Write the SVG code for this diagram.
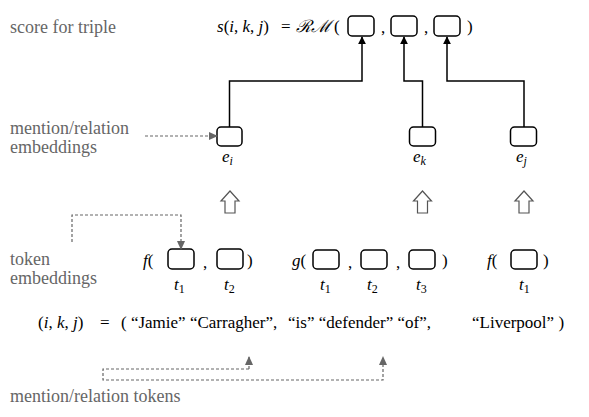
<svg xmlns="http://www.w3.org/2000/svg" width="589" height="417" viewBox="0 0 589 417">
<defs>
<style>
.lbl{font-family:"Liberation Serif",serif;font-size:18px;fill:#666}
.m{font-family:"Liberation Serif",serif;font-size:17px;fill:#000}
.it{font-style:italic}
.box{fill:#fff;stroke:#000;stroke-width:1.5}
.con{fill:none;stroke:#000;stroke-width:1.5}
.dash{fill:none;stroke:#666;stroke-width:1.2;stroke-dasharray:3 2}
.hollow{fill:#fff;stroke:#555;stroke-width:1.2}
</style>
<marker id="ah" viewBox="0 0 10 10" refX="9" refY="5" markerWidth="8" markerHeight="8" orient="auto" markerUnits="userSpaceOnUse">
<path d="M0,0 L10,5 L0,10 z" fill="#000"/>
</marker>
<marker id="gh" viewBox="0 0 10 10" refX="9" refY="5" markerWidth="9" markerHeight="9" orient="auto" markerUnits="userSpaceOnUse">
<path d="M0,0.5 L10,5 L0,9.5 z" fill="#666"/>
</marker>
</defs>

<g id="labels">
<text class="lbl" x="10" y="33">score for triple</text>
<text class="lbl" x="10" y="134">mention/relation</text>
<text class="lbl" x="10" y="153">embeddings</text>
<text class="lbl" x="10" y="265">token</text>
<text class="lbl" x="10" y="284">embeddings</text>
<text class="lbl" x="10" y="402">mention/relation tokens</text>
</g>

<g id="score">
<text class="m" x="217" y="32"><tspan class="it">s</tspan>(<tspan class="it">i</tspan>, <tspan class="it">k</tspan>, <tspan class="it">j</tspan>)</text>
<text class="m" x="281" y="32">=</text>
<text class="m" x="296" y="32" font-family="DejaVu Serif" font-style="italic" font-size="16" textLength="36" lengthAdjust="spacingAndGlyphs">ℛℳ</text>
<text class="m" x="334" y="32">(</text>
<rect class="box" x="348" y="16" width="26" height="20" rx="4"/>
<text class="m" x="381" y="33">,</text>
<rect class="box" x="391" y="16" width="26" height="20" rx="4"/>
<text class="m" x="424" y="33">,</text>
<rect class="box" x="434" y="16" width="26" height="20" rx="4"/>
<text class="m" x="467" y="32">)</text>
</g>

<g id="ei">
<rect class="box" x="217" y="127" width="25" height="19" rx="4"/>
<text class="m" x="222" y="162"><tspan class="it">e</tspan><tspan class="it" font-size="12" dy="3">i</tspan></text>
</g>
<g id="ek">
<rect class="box" x="409.5" y="127" width="26" height="19" rx="4"/>
<text class="m" x="413" y="162"><tspan class="it">e</tspan><tspan class="it" font-size="12" dy="3">k</tspan></text>
</g>
<g id="ej">
<rect class="box" x="510.5" y="127" width="26" height="19" rx="4"/>
<text class="m" x="516" y="162"><tspan class="it">e</tspan><tspan class="it" font-size="12" dy="3">j</tspan></text>
</g>

<g id="hollow-arrows">
<polygon class="hollow" points="230,191 239,201 235,201 235,213 225,213 225,201 221,201"/>
<polygon class="hollow" points="422.5,191 431.5,201 427.5,201 427.5,213 417.5,213 417.5,201 413.5,201"/>
<polygon class="hollow" points="524,191 533,201 529,201 529,213 519,213 519,201 515,201"/>
</g>

<g id="f1">
<text class="m" x="143" y="266"><tspan class="it">f</tspan>(</text>
<rect class="box" x="168" y="249" width="26" height="20" rx="4"/>
<text class="m" x="203" y="268">,</text>
<rect class="box" x="217" y="249" width="26" height="20" rx="4"/>
<text class="m" x="247" y="266">)</text>
<text class="m" x="174" y="290"><tspan class="it">t</tspan><tspan font-size="12" dy="3">1</tspan></text>
<text class="m" x="224" y="290"><tspan class="it">t</tspan><tspan font-size="12" dy="3">2</tspan></text>
</g>

<g id="g">
<text class="m" x="292" y="266"><tspan class="it">g</tspan>(</text>
<rect class="box" x="313" y="250" width="26" height="19" rx="4"/>
<text class="m" x="348" y="268">,</text>
<rect class="box" x="361" y="250" width="26" height="19" rx="4"/>
<text class="m" x="396" y="268">,</text>
<rect class="box" x="409" y="250" width="26" height="19" rx="4"/>
<text class="m" x="442" y="266">)</text>
<text class="m" x="320" y="290"><tspan class="it">t</tspan><tspan font-size="12" dy="3">1</tspan></text>
<text class="m" x="367" y="290"><tspan class="it">t</tspan><tspan font-size="12" dy="3">2</tspan></text>
<text class="m" x="416" y="290"><tspan class="it">t</tspan><tspan font-size="12" dy="3">3</tspan></text>
</g>

<g id="f2">
<text class="m" x="487" y="266"><tspan class="it">f</tspan>(</text>
<rect class="box" x="511" y="250" width="26" height="19" rx="4"/>
<text class="m" x="543" y="266">)</text>
<text class="m" x="519" y="290"><tspan class="it">t</tspan><tspan font-size="12" dy="3">1</tspan></text>
</g>

<g id="tuple">
<text class="m" x="38" y="328">(<tspan class="it">i</tspan>, <tspan class="it">k</tspan>, <tspan class="it">j</tspan>)</text>
<text class="m" x="100" y="328">=</text>
<text class="m" x="121" y="328">( “Jamie” “Carragher”,</text>
<text class="m" x="288" y="328">“is” “defender” “of”,</text>
<text class="m" x="472" y="328">“Liverpool” )</text>
</g>

<g id="connectors">
<polyline class="con" points="229.5,127 229.5,81 362,81 362,37" marker-end="url(#ah)"/>
<polyline class="con" points="422.5,127 422.5,81 404,81 404,37" marker-end="url(#ah)"/>
<polyline class="con" points="524,127 524,81 447,81 447,37" marker-end="url(#ah)"/>
<polyline class="dash" points="145,136 217,136" marker-end="url(#gh)"/>
<polyline class="dash" points="72,242 72,215 181,215 181,249" marker-end="url(#gh)"/>
<polyline class="dash" points="249,369 103,369 103,380 383,380 383,357" marker-end="url(#gh)"/>
<polyline class="dash" points="249,369 249,357" marker-end="url(#gh)"/>
</g>
</svg>
